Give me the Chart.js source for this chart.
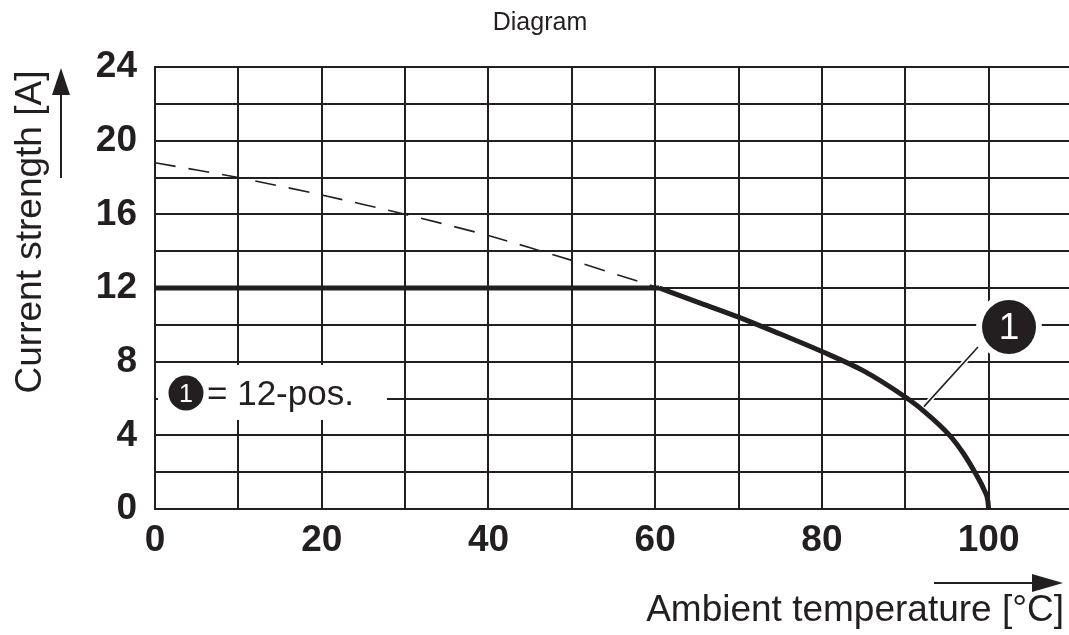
<!DOCTYPE html>
<html><head><meta charset="utf-8">
<script src="https://cdn.jsdelivr.net/npm/chart.js@4"></script>
<style>
html,body{margin:0;padding:0;background:#fff;overflow:hidden;}
#wrap{width:1069px;height:635px;overflow:hidden;position:relative;}
canvas{display:block;}
</style></head><body>
<div id="wrap"><canvas id="c" width="1082" height="635" style="width:1082px;height:635px"></canvas></div>
<script>
const xTicks = [0, 20, 40, 60, 80, 100];
const yTicks = [0, 4, 8, 12, 16, 20, 24];
const flatX = [0, 60.5];
const flatY = [12, 12];
const curveX = [60.5, 65, 70, 75, 80, 85, 90, 92, 95.4, 97, 98.4, 99.5, 99.9, 100];
const curveY = [12, 11.25, 10.42, 9.5, 8.55, 7.5, 6.08, 5.4, 3.96, 3.0, 1.95, 1.0, 0.45, 0];
const dashX = [0, 10, 20, 30, 40, 50, 60.5];
const dashY = [18.8, 18.0, 17.05, 16.0, 14.85, 13.5, 12.0];
const title = 'Diagram';
const yTitle = 'Current strength [A]';
const xTitle = 'Ambient temperature [°C]';
const legendText = '= 12-pos.';
const markerLabel = '1';
const markerAt = [92, 5.45];

const INK = '#231f20';
const FONT = '"Liberation Sans", Arial, Helvetica, sans-serif';

function pts(xs, ys){ return xs.map((x,i)=>({x:x, y:ys[i]})); }

const overlay = {
  id:'overlay',
  afterDraw(chart){
    const ctx = chart.ctx, xs = chart.scales.x, ys = chart.scales.y;
    ctx.save();
    ctx.fillStyle = INK;
    ctx.font = '25px ' + FONT;
    ctx.textAlign = 'center'; ctx.textBaseline = 'middle';
    ctx.fillText(title, 540, 23);
    ctx.save();
    ctx.translate(31, 232);
    ctx.rotate(-Math.PI/2);
    ctx.font = '37px ' + FONT;
    ctx.textAlign = 'center'; ctx.textBaseline = 'middle';
    ctx.fillText(yTitle, 0, 0);
    ctx.restore();
    ctx.strokeStyle = INK; ctx.lineWidth = 2;
    ctx.beginPath(); ctx.moveTo(61, 178); ctx.lineTo(61, 90); ctx.stroke();
    ctx.beginPath(); ctx.moveTo(61, 68); ctx.lineTo(52, 95); ctx.lineTo(70, 95); ctx.closePath(); ctx.fill();
    ctx.font = '37px ' + FONT;
    ctx.textAlign = 'right'; ctx.textBaseline = 'middle';
    ctx.fillText(xTitle, 1064, 611);
    ctx.beginPath(); ctx.moveTo(934, 583); ctx.lineTo(1040, 583); ctx.stroke();
    ctx.beginPath(); ctx.moveTo(1063, 583); ctx.lineTo(1032, 574); ctx.lineTo(1032, 592); ctx.closePath(); ctx.fill();

    ctx.fillStyle = '#fff';
    ctx.fillRect(158, 365, 229, 55);
    ctx.fillStyle = INK;
    ctx.beginPath(); ctx.arc(186, 393, 17.5, 0, Math.PI*2); ctx.fill();
    ctx.fillStyle = '#fff';
    ctx.font = '25px ' + FONT;
    ctx.textAlign = 'center'; ctx.textBaseline = 'middle';
    ctx.fillText(markerLabel, 186, 395);
    ctx.fillStyle = INK;
    ctx.font = '35px ' + FONT;
    ctx.textAlign = 'left'; ctx.textBaseline = 'alphabetic';
    ctx.fillText(legendText, 207, 405);

    const px = xs.getPixelForValue(markerAt[0]), py = ys.getPixelForValue(markerAt[1]);
    const cx = 1009, cy = 327, r = 27;
    ctx.strokeStyle = '#fff'; ctx.lineWidth = 5;
    ctx.beginPath(); ctx.moveTo(cx-31, cy+20); ctx.lineTo(px+2, py-2); ctx.stroke();
    ctx.strokeStyle = INK; ctx.lineWidth = 1.6;
    ctx.beginPath(); ctx.moveTo(cx-31, cy+20); ctx.lineTo(px+2, py-2); ctx.stroke();
    ctx.fillStyle = '#fff';
    ctx.beginPath(); ctx.arc(cx, cy, r+6, 0, Math.PI*2); ctx.fill();
    ctx.fillStyle = INK;
    ctx.beginPath(); ctx.arc(cx, cy, r, 0, Math.PI*2); ctx.fill();
    ctx.fillStyle = '#fff';
    ctx.font = '37px ' + FONT;
    ctx.textAlign = 'center'; ctx.textBaseline = 'middle';
    ctx.fillText(markerLabel, cx, cy+2);
    ctx.restore();
  }
};

const chart = new Chart(document.getElementById('c'), {
  type: 'line',
  data: {
    datasets: [
      { data: pts(dashX, dashY), borderColor: INK, borderWidth: 1.6, borderDash: [21, 13],
        pointRadius: 0, tension: 0.2, fill: false },
      { data: pts(flatX, flatY), borderColor: INK, borderWidth: 5,
        pointRadius: 0, fill: false, borderCapStyle: 'butt' },
      { data: pts(curveX, curveY), borderColor: INK, borderWidth: 5,
        pointRadius: 0, cubicInterpolationMode: 'monotone', fill: false, borderCapStyle: 'butt' }
    ]
  },
  options: {
    responsive: false, maintainAspectRatio: false, animation: false, devicePixelRatio: 1,
    layout: { padding: { left: 0, right: 4, top: 67, bottom: 0 } },
    plugins: { legend: { display: false }, tooltip: { enabled: false }, title: { display: false } },
    scales: {
      x: {
        type: 'linear', min: 0, max: 110,
        afterFit(s){ s.height = 126; },
        grid: { color: INK, lineWidth: 2, drawTicks: false },
        border: { color: INK, width: 2 },
        ticks: { stepSize: 10, padding: 10, color: INK, maxRotation: 0, autoSkip: false,
          font: { family: FONT, size: 37, weight: 'bold' },
          callback: v => xTicks.includes(v) ? String(v) : '' }
      },
      y: {
        type: 'linear', min: 0, max: 24,
        afterFit(s){ s.width = 155; },
        grid: { color: INK, lineWidth: 2, drawTicks: false },
        border: { color: INK, width: 2 },
        ticks: { stepSize: 2, padding: 18, color: INK, autoSkip: false,
          font: { family: FONT, size: 37, weight: 'bold' },
          callback: v => yTicks.includes(v) ? String(v) : '' }
      }
    }
  },
  plugins: [overlay]
});
</script>
</body></html>
